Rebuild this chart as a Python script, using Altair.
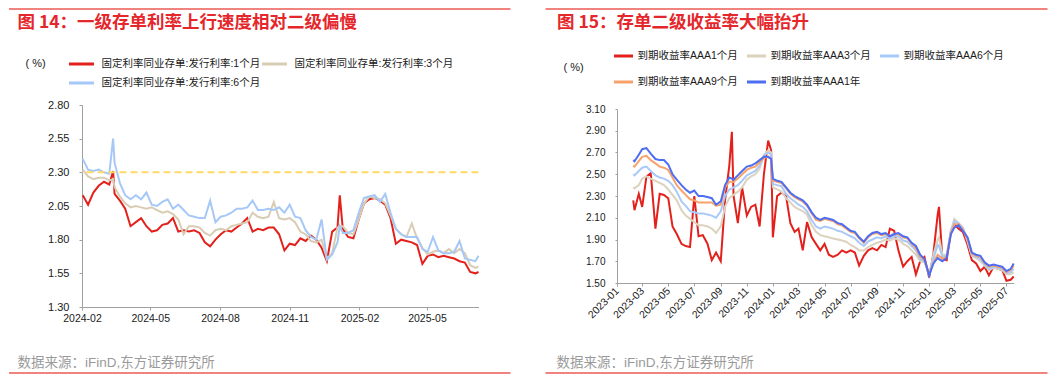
import altair as alt
import pandas as pd

# ---------------- Left panel data (图14) ----------------
L_DATES = ["2024-02-02","2024-02-09","2024-02-16","2024-02-23","2024-03-01","2024-03-08","2024-03-13",
           "2024-03-15","2024-03-22","2024-03-29","2024-04-05","2024-04-12","2024-04-19","2024-04-26",
           "2024-05-03","2024-05-10","2024-05-17","2024-05-24","2024-05-31","2024-06-07","2024-06-14",
           "2024-06-21","2024-06-28","2024-07-05","2024-07-12","2024-07-19","2024-07-26","2024-08-02",
           "2024-08-09","2024-08-16","2024-08-23","2024-08-30","2024-09-06","2024-09-13","2024-09-20",
           "2024-09-27","2024-10-04","2024-10-11","2024-10-18","2024-10-25","2024-11-01","2024-11-08",
           "2024-11-15","2024-11-22","2024-11-29","2024-12-06","2024-12-13","2024-12-20","2024-12-27",
           "2025-01-03","2025-01-06","2025-01-10","2025-01-17","2025-01-24","2025-01-31","2025-02-07",
           "2025-02-14","2025-02-21","2025-02-28","2025-03-07","2025-03-14","2025-03-21","2025-03-28",
           "2025-04-04","2025-04-11","2025-04-18","2025-04-25","2025-05-02","2025-05-09","2025-05-16",
           "2025-05-23","2025-05-30","2025-06-06","2025-06-13","2025-06-20","2025-06-27","2025-07-04",
           "2025-07-08"]
L_1M = [2.13,2.06,2.15,2.20,2.23,2.21,2.31,
        2.14,2.09,2.03,1.90,1.93,1.96,1.90,1.86,1.87,1.91,1.92,1.96,1.86,1.87,1.86,1.87,1.85,1.78,1.75,
        1.80,1.84,1.87,1.86,1.89,1.92,1.96,1.86,1.88,1.87,1.89,1.89,1.84,1.72,1.77,1.76,1.81,1.79,1.83,
        1.80,1.74,1.64,1.86,1.89,
        2.13,
        1.88,1.82,1.81,1.95,2.07,2.10,2.11,2.09,2.06,1.96,1.77,1.80,1.79,1.78,1.76,1.62,1.68,1.69,1.67,
        1.68,1.67,1.66,1.64,1.63,1.56,1.55,
        1.56]
L_3M = [2.32,2.27,2.25,2.26,2.26,2.24,2.25,
        2.19,2.12,2.07,2.04,2.05,2.04,2.03,2.04,2.02,2.00,2.01,1.99,1.95,1.84,1.90,1.90,1.89,1.85,1.83,
        1.87,1.88,1.87,1.90,1.91,1.92,1.93,2.00,1.97,1.96,1.97,2.08,1.96,1.95,1.96,1.93,1.86,1.84,1.79,
        1.78,1.80,1.66,1.70,1.89,
        1.90,
        1.90,1.85,1.84,1.95,2.07,2.12,2.11,2.10,2.07,1.98,1.88,1.84,1.82,1.92,1.81,1.74,1.69,1.71,1.72,
        1.70,1.73,1.70,1.73,1.70,1.61,1.59,
        1.60]
L_6M = [2.40,2.32,2.31,2.32,2.30,2.29,2.55,
        2.37,2.22,2.13,2.10,2.13,2.10,2.15,2.06,2.05,2.08,2.10,2.03,2.06,2.02,1.98,1.97,1.96,1.96,2.09,
        1.93,1.97,1.98,2.00,2.03,2.03,2.04,2.09,2.02,2.02,2.03,2.02,2.04,2.00,2.06,1.97,1.96,1.87,1.82,
        1.80,1.95,1.65,1.69,1.78,
        1.90,
        1.85,1.85,1.87,2.00,2.11,2.12,2.13,2.08,2.14,2.00,1.88,1.84,1.82,1.82,1.82,1.73,1.71,1.82,1.72,
        1.70,1.70,1.71,1.79,1.66,1.65,1.64,
        1.68]
L_NAMES = ["固定利率同业存单:发行利率:1个月", "固定利率同业存单:发行利率:3个月", "固定利率同业存单:发行利率:6个月"]
L_COLORS = ["#E3211C", "#D9CCB4", "#A6C8F7"]
L_REF = [2.30]
L_YTICKS = [1.30, 1.55, 1.80, 2.05, 2.30, 2.55, 2.80]
L_XTICKS = ["2024-02-01", "2024-05-01", "2024-08-01", "2024-11-01", "2025-02-01", "2025-05-01"]
L_XDOMAIN = ["2024-02-01", "2025-07-08"]
L_TITLE = ["图 14：一级存单利率上行速度相对二级偏慢"]

# ---------------- Right panel data (图15) ----------------
R_DATES = ["2023-02-08","2023-02-11","2023-02-21","2023-03-01","2023-03-11","2023-03-21","2023-04-01",
           "2023-04-11","2023-04-21","2023-05-01","2023-05-11","2023-05-21","2023-06-01","2023-06-11",
           "2023-06-21","2023-07-01","2023-07-11","2023-07-21","2023-08-01","2023-08-11","2023-08-21",
           "2023-09-01","2023-09-11","2023-09-21","2023-09-27","2023-10-01","2023-10-11","2023-10-21",
           "2023-11-01","2023-11-11","2023-11-21","2023-12-01","2023-12-11","2023-12-21","2023-12-28",
           "2024-01-01","2024-01-11","2024-01-21","2024-02-01","2024-02-11","2024-02-21","2024-03-01",
           "2024-03-11","2024-03-21","2024-04-01","2024-04-11","2024-04-21","2024-05-01","2024-05-11",
           "2024-05-21","2024-06-01","2024-06-11","2024-06-21","2024-07-01","2024-07-11","2024-07-21",
           "2024-08-01","2024-08-11","2024-08-21","2024-09-01","2024-09-11","2024-09-21","2024-10-01",
           "2024-10-11","2024-10-21","2024-11-01","2024-11-11","2024-11-21","2024-12-01","2024-12-11",
           "2024-12-21","2025-01-01","2025-01-11","2025-01-21","2025-01-24","2025-02-01","2025-02-11",
           "2025-02-21","2025-03-01","2025-03-11","2025-03-21","2025-04-01","2025-04-11","2025-04-21",
           "2025-05-01","2025-05-11","2025-05-21","2025-06-01","2025-06-11","2025-06-21","2025-07-01",
           "2025-07-11","2025-07-18"]
R_1M = [2.26,2.17,2.32,2.20,2.48,2.51,2.00,2.32,2.31,2.28,2.02,1.95,1.86,1.84,1.83,2.30,1.93,1.94,
        1.86,1.71,1.78,1.70,2.26,2.58,2.89,2.30,2.05,2.38,2.12,2.20,2.22,2.02,2.50,2.81,2.72,
        1.92,2.30,2.33,2.30,2.05,1.97,2.00,1.80,2.06,1.92,1.86,1.80,1.86,1.76,1.74,1.76,1.80,1.78,
        1.80,1.78,1.66,1.75,1.80,1.82,1.80,1.85,1.83,2.00,1.98,1.80,1.65,1.70,1.74,1.58,1.70,1.74,
        1.55,1.77,2.13,2.20,1.72,1.71,1.98,2.04,2.00,1.97,1.85,1.71,1.68,1.61,1.65,1.57,1.65,1.63,
        1.62,1.52,1.53,1.56]
R_3M = [2.38,2.37,2.40,2.46,2.48,2.46,2.44,2.42,2.40,2.36,2.31,2.26,2.17,2.12,2.09,2.06,2.03,2.03,
        2.02,2.00,1.96,2.02,2.20,2.28,2.30,2.31,2.34,2.38,2.45,2.48,2.50,2.55,2.68,2.72,2.70,
        2.38,2.36,2.34,2.28,2.24,2.20,2.18,2.16,2.13,2.03,1.97,1.94,1.93,1.92,1.91,1.90,1.89,1.88,
        1.85,1.83,1.80,1.80,1.83,1.85,1.87,1.88,1.90,1.89,1.91,1.90,1.86,1.84,1.80,1.76,1.70,1.69,
        1.58,1.76,1.90,1.92,1.76,1.76,1.98,2.09,2.05,2.01,1.88,1.75,1.73,1.70,1.66,1.62,1.64,1.63,
        1.62,1.58,1.58,1.60]
R_6M = [2.50,2.49,2.53,2.56,2.57,2.53,2.49,2.47,2.46,2.44,2.40,2.34,2.25,2.21,2.16,2.15,2.14,2.14,
        2.13,2.12,2.10,2.16,2.30,2.36,2.37,2.38,2.40,2.44,2.49,2.51,2.53,2.58,2.67,2.70,2.68,
        2.41,2.40,2.39,2.32,2.28,2.25,2.22,2.20,2.16,2.08,2.02,2.00,2.02,2.01,2.00,1.98,1.97,1.95,
        1.93,1.91,1.87,1.84,1.88,1.90,1.92,1.91,1.93,1.91,1.93,1.93,1.89,1.88,1.84,1.80,1.72,1.70,
        1.58,1.72,1.85,1.84,1.74,1.75,1.97,2.07,2.05,2.00,1.90,1.76,1.74,1.72,1.67,1.63,1.65,1.64,
        1.63,1.59,1.60,1.63]
R_9M = [2.58,2.57,2.62,2.66,2.67,2.63,2.60,2.57,2.56,2.54,2.47,2.40,2.35,2.31,2.27,2.26,2.24,2.24,
        2.24,2.24,2.21,2.22,2.38,2.43,2.43,2.43,2.46,2.50,2.54,2.56,2.57,2.61,2.65,2.66,2.64,
        2.44,2.43,2.42,2.37,2.32,2.29,2.27,2.25,2.21,2.14,2.08,2.07,2.09,2.08,2.07,2.04,2.03,2.00,
        1.97,1.96,1.91,1.87,1.92,1.95,1.96,1.94,1.95,1.93,1.95,1.95,1.92,1.91,1.86,1.82,1.74,1.71,
        1.58,1.69,1.76,1.75,1.72,1.74,1.96,2.04,2.04,1.99,1.91,1.77,1.75,1.74,1.68,1.65,1.66,1.65,
        1.64,1.60,1.62,1.66]
R_1Y = [2.63,2.62,2.68,2.73,2.74,2.69,2.64,2.63,2.63,2.59,2.50,2.45,2.40,2.36,2.33,2.35,2.30,2.30,
        2.29,2.28,2.22,2.25,2.40,2.47,2.46,2.45,2.49,2.53,2.57,2.58,2.60,2.63,2.66,2.66,2.64,
        2.46,2.44,2.43,2.38,2.33,2.30,2.28,2.26,2.22,2.15,2.10,2.08,2.10,2.09,2.08,2.05,2.04,2.01,
        1.98,1.97,1.92,1.88,1.93,1.96,1.97,1.95,1.96,1.93,1.95,1.96,1.93,1.92,1.87,1.84,1.76,1.72,
        1.57,1.68,1.73,1.72,1.70,1.73,1.95,2.01,2.03,1.98,1.92,1.78,1.76,1.75,1.69,1.66,1.67,1.66,
        1.65,1.61,1.63,1.68]
R_NAMES = ["到期收益率AAA1个月", "到期收益率AAA3个月", "到期收益率AAA6个月", "到期收益率AAA9个月", "到期收益率AAA1年"]
R_COLORS = ["#E3211C", "#DCD2BE", "#A9C9F8", "#F7A26A", "#4D6DF2"]
R_YTICKS = [1.50, 1.70, 1.90, 2.10, 2.30, 2.50, 2.70, 2.90, 3.10]
R_XTICKS = ["2023-01-01","2023-03-01","2023-05-01","2023-07-01","2023-09-01","2023-11-01",
            "2024-01-01","2024-03-01","2024-05-01","2024-07-01","2024-09-01","2024-11-01",
            "2025-01-01","2025-03-01","2025-05-01","2025-07-01"]
R_XDOMAIN = ["2023-01-01", "2025-07-18"]
R_TITLE = ["图 15：存单二级收益率大幅抬升"]

UNIT = ["( %)"]
SOURCE = ["数据来源：iFinD,东方证券研究所"]

RED = "#E5262B"
LINE_RED = "#EC5A55"
GRAY = "#A0A0A0"
FONT = "Liberation Sans, Noto Sans CJK SC"
CJK = "Noto Sans CJK SC"
XLABEL = "utcFormat(datum.value, '%Y-%m')"


def dt(s):
    y, m, d = s.split("-")
    return alt.DateTime(year=int(y), month=int(m), date=int(d), utc=True)


def one(col, vals):
    return pd.DataFrame({col: vals})


def panel(dates, series, names, colors, xticks, xdomain, yticks, ydomain, W, H, yrange,
          xaxis_kw, yaxis_kw, legend_kw, title, tpos, upos, spos, top_y, bot_y, xl, xr, ref_vals=None):
    x = alt.X("date:T",
              scale=alt.Scale(type="utc", domain=[dt(xdomain[0]), dt(xdomain[1])]),
              axis=alt.Axis(values=[dt(t) for t in xticks], labelExpr=XLABEL,
                            labelFlush=False, labelOverlap=False, grid=False, title=None,
                            domainColor=GRAY, tickColor=GRAY, labelColor="#1a1a1a",
                            labelFont="Liberation Sans", **xaxis_kw))
    if yrange is not None:
        yscale = alt.Scale(domain=ydomain, nice=False, zero=False, range=yrange)
    else:
        yscale = alt.Scale(domain=ydomain, nice=False, zero=False)
    y = alt.Y("value:Q", scale=yscale,
              axis=alt.Axis(values=yticks, format=".2f", grid=False, title=None, labelOverlap=False,
                            domainColor=GRAY, tickColor=GRAY, labelColor="#1a1a1a",
                            labelFont="Liberation Sans", **yaxis_kw))
    leg = alt.Legend(title=None, orient="none", direction="horizontal", symbolType="stroke", padding=0,
                     labelFont=FONT, labelFontSize=10.5, labelColor="#1a1a1a",
                     labelLimit=400, clipHeight=14, **legend_kw)
    color = alt.Color("series:N", scale=alt.Scale(domain=names, range=colors), legend=leg)
    layers = []
    for n, v in zip(names, series):
        df = pd.DataFrame({"date": dates, "value": v, "series": n})
        layers.append(alt.Chart(df).mark_line(strokeWidth=2).encode(x=x, y=y, color=color))
    if ref_vals is not None:
        layers.append(alt.Chart(one("value", ref_vals)).mark_rule(
            color="#FFD966", strokeWidth=2, strokeDash=[7, 4]).encode(y=y))
    layers.append(alt.Chart(one("t", title)).mark_text(
        align="left", baseline="middle", font=CJK, fontSize=17.5, fontWeight="bold", color=RED
    ).encode(x=alt.value(tpos[0]), y=alt.value(tpos[1]), text="t:N"))
    layers.append(alt.Chart(one("t", UNIT)).mark_text(
        align="left", baseline="middle", font=FONT, fontSize=11, color="#1a1a1a"
    ).encode(x=alt.value(upos[0]), y=alt.value(upos[1]), text="t:N"))
    layers.append(alt.Chart(one("t", SOURCE)).mark_text(
        align="left", baseline="middle", font=FONT, fontSize=13.5, color="#9A9A9A"
    ).encode(x=alt.value(spos[0]), y=alt.value(spos[1]), text="t:N"))
    for yy in (top_y, bot_y):
        layers.append(alt.Chart(one("k", [0])).mark_rule(color=LINE_RED, strokeWidth=1.5).encode(
            x=alt.value(xl), x2=alt.value(xr), y=alt.value(yy)))
    return alt.layer(*layers).properties(width=W, height=H)


left = panel(
    L_DATES, [L_1M, L_3M, L_6M], L_NAMES, L_COLORS, L_XTICKS, L_XDOMAIN, L_YTICKS, [1.30, 2.80],
    396.5, 202, None,
    dict(labelAngle=0, tickSize=3, labelPadding=3, labelFontSize=10.5),
    dict(tickSize=3, labelPadding=10, labelFontSize=11),
    dict(legendX=-14.5, legendY=-48, columns=2, symbolSize=625, symbolStrokeWidth=3,
         labelOffset=6, columnPadding=-8, rowPadding=5),
    L_TITLE, (-64.5, -82.5), (-56.5, -41), (-64.5, 257.7), -96, 268, -73, 428.5, ref_vals=L_REF)

# right plot area starts 4px lower than the left one: shared origin, shifted range
right = panel(
    R_DATES, [R_1M, R_3M, R_6M, R_9M, R_1Y], R_NAMES, R_COLORS, R_XTICKS, R_XDOMAIN, R_YTICKS, [1.50, 3.10],
    396.7, 178, [178, 4],
    dict(labelAngle=315, labelAlign="right", labelBaseline="middle", tickSize=3, labelPadding=3,
         labelFontSize=10.5),
    dict(tickSize=2, labelPadding=10, labelFontSize=10),
    dict(legendX=-4.5, legendY=-56, columns=3, symbolSize=361, symbolStrokeWidth=3,
         labelOffset=3, columnPadding=7, rowPadding=12),
    R_TITLE, (-60, -82.5), (-53.5, -37), (-60.5, 257.7), -96, 268, -71.5, 430.5)

chart = alt.hconcat(left, right, spacing=32).resolve_scale(
    color="independent", x="independent", y="independent"
).resolve_legend(color="independent").properties(padding=0).configure_view(stroke=None)

chart.save("out.html", embed_options={"renderer": "svg", "actions": False})
